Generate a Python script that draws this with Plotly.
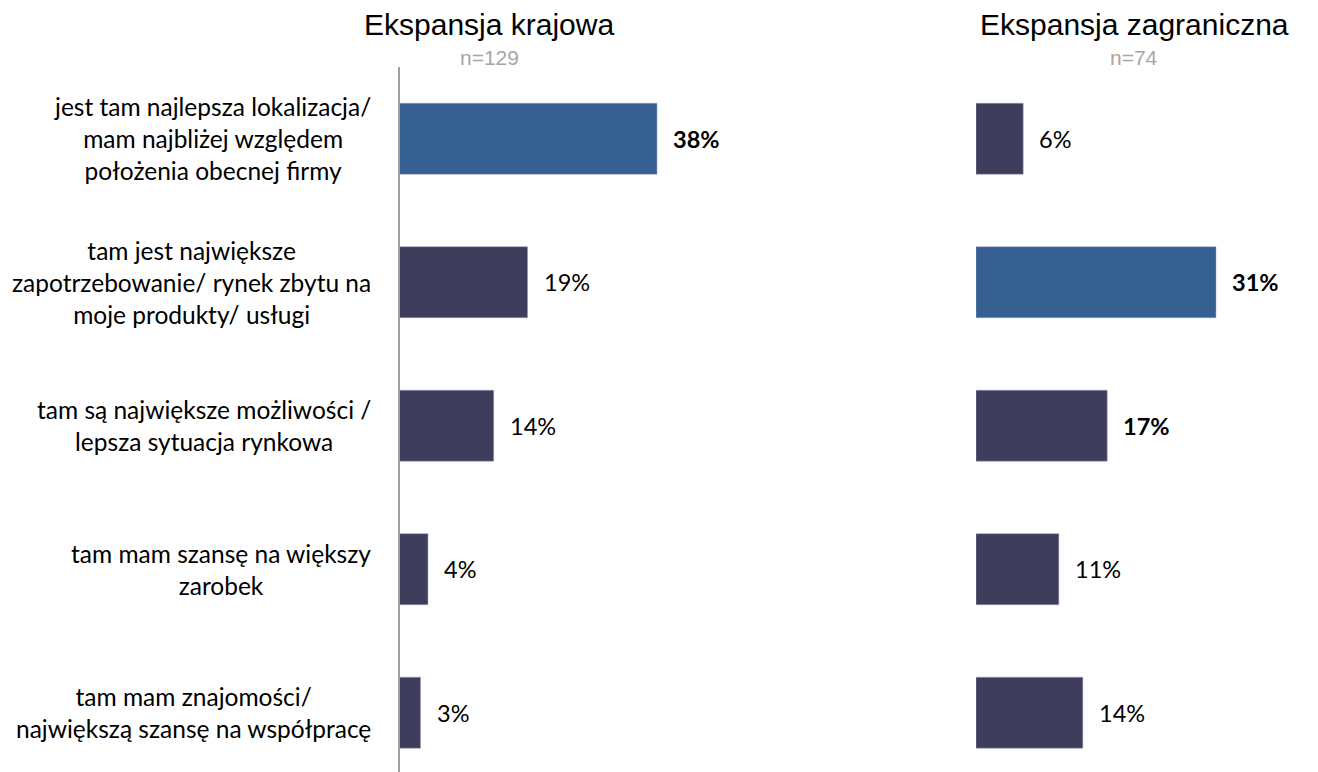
import plotly.graph_objects as go

categories = [
    "jest tam najlepsza lokalizacja/<br>mam najbliżej względem<br>położenia obecnej firmy",
    "tam jest największe<br>zapotrzebowanie/ rynek zbytu na<br>moje produkty/ usługi",
    "tam są największe możliwości /<br>lepsza sytuacja rynkowa",
    "tam mam szansę na większy<br>zarobek",
    "tam mam znajomości/<br>największą szansę na współpracę",
]
domestic_values = [38.0, 18.9, 13.9, 4.2, 3.1]
domestic_labels = ["38%", "19%", "14%", "4%", "3%"]
domestic_bold = [True, False, False, False, False]
foreign_values = [6.1, 31.0, 16.95, 10.7, 13.8]
foreign_labels = ["6%", "31%", "17%", "11%", "14%"]
foreign_bold = [False, True, True, False, False]
titles = ["Ekspansja krajowa", "Ekspansja zagraniczna"]
sample_sizes = ["n=129", "n=74"]

OFF = 8  # page body margin offset
W, H = 1318 - OFF, 772 - OFF
BLUE = "#376092"
DARK = "#3E3E5C"

def px(x):
    return (x - OFF) / W

def py(y):
    return 1 - (y - OFF) / H

def colors(vals):
    m = max(vals)
    return [BLUE if v == m else DARK for v in vals]

ypos = list(range(len(categories)))

fig = go.Figure()
fig.add_trace(go.Bar(
    x=domestic_values, y=ypos, orientation="h",
    marker=dict(color=colors(domestic_values), line=dict(color="#A0A0C0", width=0.5)),
    xaxis="x", yaxis="y", hoverinfo="skip",
))
fig.add_trace(go.Bar(
    x=foreign_values, y=ypos, orientation="h",
    marker=dict(color=colors(foreign_values), line=dict(color="#A0A0C0", width=0.5)),
    xaxis="x2", yaxis="y2", hoverinfo="skip",
))

left_px_per = 257.5 / 38.0
right_px_per = 240 / 31.0
left_range = 50
right_range = 42
y_top = py(67)

fig.update_layout(
    width=W, height=H,
    margin=dict(l=0, r=0, t=0, b=0),
    paper_bgcolor="white", plot_bgcolor="white",
    showlegend=False,
    bargap=0.505,
    xaxis=dict(domain=[px(399.5), px(399.5) + left_range * left_px_per / W],
               range=[0, left_range], visible=False, fixedrange=True),
    xaxis2=dict(domain=[px(976), px(976) + right_range * right_px_per / W],
                range=[0, right_range], visible=False, fixedrange=True),
    yaxis=dict(domain=[0, y_top], range=[4.47 - OFF / 141.85, -0.5], anchor="x",
               showticklabels=False, ticks="", showgrid=False, zeroline=False,
               showline=True, linecolor="#A0A0A0", linewidth=2),
    yaxis2=dict(domain=[0, y_top], range=[4.47 - OFF / 141.85, -0.5], anchor="x2",
                showticklabels=False, ticks="", showgrid=False, zeroline=False,
                showline=False),
)

ann = []
label_font = "Lato, Carlito, 'Noto Sans', sans-serif"
for i, cat in enumerate(categories):
    ann.append(dict(x=px(373), xref="paper", y=i, yref="y", text=cat,
                    xanchor="right", yanchor="middle", align="center", showarrow=False,
                    font=dict(family=label_font, size=24.5, color="#000000")))
for i, (v, t, b) in enumerate(zip(domestic_values, domestic_labels, domestic_bold)):
    ann.append(dict(x=v, xref="x", y=i, yref="y", text=f"<b>{t}</b>" if b else t,
                    xanchor="left", yanchor="middle", xshift=14, showarrow=False,
                    font=dict(family=label_font, size=23.5, color="#000000")))
for i, (v, t, b) in enumerate(zip(foreign_values, foreign_labels, foreign_bold)):
    ann.append(dict(x=v, xref="x2", y=i, yref="y2", text=f"<b>{t}</b>" if b else t,
                    xanchor="left", yanchor="middle", xshift=14, showarrow=False,
                    font=dict(family=label_font, size=23.5, color="#000000")))
title_centers = [px(489), px(1134)]
for cx, t, n in zip(title_centers, titles, sample_sizes):
    ann.append(dict(x=cx, xref="paper", y=py(25), yref="paper", text=t,
                    xanchor="center", yanchor="middle", showarrow=False,
                    font=dict(family="Liberation Sans, Arial, sans-serif", size=30, color="#000000")))
    ann.append(dict(x=cx, xref="paper", y=py(57), yref="paper", text=n,
                    xanchor="center", yanchor="middle", showarrow=False,
                    font=dict(family="Liberation Sans, Arial, sans-serif", size=21, color="#A6A6A6")))
fig.update_layout(annotations=ann)

fig.write_html("out.html")
